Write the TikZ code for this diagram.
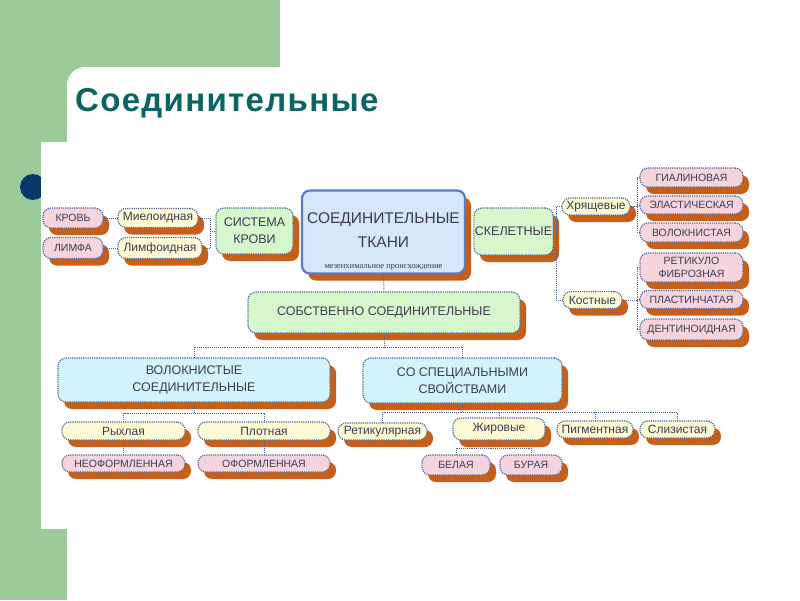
\documentclass[tikz,border=0pt]{standalone}
\usepackage{fontspec}
\setmainfont{Liberation Sans}
\newfontfamily\titlefont[LetterSpace=4]{Liberation Sans}
\newfontfamily\subfont{Liberation Serif}
\usepackage{tikz}
\usetikzlibrary{shadows}
\definecolor{slidegreen}{RGB}{155,203,152}
\definecolor{bulletblue}{RGB}{10,55,105}
\definecolor{titleteal}{RGB}{10,100,100}
\definecolor{shadowbrown}{RGB}{200,95,25}
\definecolor{edgeblue}{RGB}{80,100,155}
\definecolor{mainedge}{RGB}{90,125,190}
\definecolor{labelgray}{RGB}{60,60,78}
\definecolor{pinkfill}{RGB}{246,212,222}
\definecolor{yellowfill}{RGB}{252,250,212}
\definecolor{greenfill}{RGB}{214,247,204}
\definecolor{bluefill}{RGB}{212,230,250}
\definecolor{cyanfill}{RGB}{208,244,250}

\tikzset{
	tbox/.style={draw=edgeblue, line width=1.2pt, densely dotted, rounded corners=8pt,
		text=labelgray, inner sep=1pt, align=center,
		general shadow={fill=shadowbrown, shadow xshift=6pt, shadow yshift=-7pt}},
	pinkbox/.style={tbox, fill=pinkfill, font=\fontsize{10.5}{12.5}\selectfont},
	yellowbox/.style={tbox, fill=yellowfill, font=\fontsize{12}{13}\selectfont},
	greenbox/.style={tbox, fill=greenfill, font=\fontsize{12.5}{17}\selectfont},
	cyanbox/.style={tbox, fill=cyanfill, font=\fontsize{12.5}{16.5}\selectfont},
	mainbox/.style={tbox, fill=bluefill, draw=mainedge, line width=2.2pt, solid,
		font=\fontsize{15.5}{24}\selectfont},
	link/.style={draw=edgeblue, line width=0.9pt, densely dotted}
}

\begin{document}
\begin{tikzpicture}[x=1pt, y=-1pt]
	\useasboundingbox (0,0) rectangle (800,600);
	% slide background
	\fill[white] (0,0) rectangle (800,600);
	\fill[slidegreen] (0,0) rectangle (280,90);
	\fill[slidegreen] (0,0) rectangle (67,600);
	\fill[white, rounded corners=18pt] (67,67) rectangle (830,630);
	\fill[bulletblue] (33,187) circle (13);
	\fill[white] (41,142) rectangle (765,529);
	\node[anchor=base west, inner sep=0pt, text=titleteal,
		font=\titlefont\bfseries\fontsize{33}{36}\selectfont] (title) at (75,111) {Соединительные};

	% left part
	\node[pinkbox, minimum width=60, minimum height=20] (krov) at (73,218) {КРОВЬ};
	\node[pinkbox, minimum width=60, minimum height=21] (limfa) at (73,248) {ЛИМФА};
	\node[yellowbox, minimum width=80, minimum height=19] (mieloid) at (158,218) {Миелоидная};
	\node[yellowbox, minimum width=84, minimum height=21] (limfoid) at (160,248) {Лимфоидная};
	\node[greenbox, minimum width=77, minimum height=46] (sistema) at (254.5,231) {СИСТЕМА\\КРОВИ};

	% centre
	\node[mainbox, minimum width=163, minimum height=83] (tkani) at (383.5,232)
		{\rule{0pt}{30pt}СОЕДИНИТЕЛЬНЫЕ\\ТКАНИ\\[-3pt]
		 {\subfont\fontsize{8.5}{9}\selectfont мезенхимальное происхождение}};
	\node[greenbox, minimum width=77, minimum height=47] (skelet) at (513.5,231.5) {СКЕЛЕТНЫЕ};

	% right part
	\node[yellowbox, minimum width=68, minimum height=17] (hrasch) at (596,206.5) {Хрящевые};
	\node[yellowbox, minimum width=59, minimum height=17] (kostn) at (592.5,300) {Костные};
	\node[pinkbox, minimum width=103, minimum height=19] (gialin) at (691.5,177.5) {ГИАЛИНОВАЯ};
	\node[pinkbox, minimum width=103, minimum height=18] (elast) at (691.5,205) {ЭЛАСТИЧЕСКАЯ};
	\node[pinkbox, minimum width=103, minimum height=19] (volokn) at (691.5,232.5) {ВОЛОКНИСТАЯ};
	\node[pinkbox, minimum width=103, minimum height=29] (retfib) at (691.5,267.5) {РЕТИКУЛО\\ФИБРОЗНАЯ};
	\node[pinkbox, minimum width=103, minimum height=18] (plast) at (691.5,299.5) {ПЛАСТИНЧАТАЯ};
	\node[pinkbox, minimum width=103, minimum height=21] (dentin) at (691.5,329.5) {ДЕНТИНОИДНАЯ};

	% lower part
	\node[greenbox, minimum width=272, minimum height=41] (sobstv) at (384,312.5) {СОБСТВЕННО СОЕДИНИТЕЛЬНЫЕ};
	\node[cyanbox, minimum width=272, minimum height=44] (volsoed) at (194,380) {ВОЛОКНИСТЫЕ\\СОЕДИНИТЕЛЬНЫЕ};
	\node[cyanbox, minimum width=199, minimum height=45] (specsv) at (462.5,380.5) {СО СПЕЦИАЛЬНЫМИ\\СВОЙСТВАМИ};
	\node[yellowbox, minimum width=123, minimum height=18] (ryhl) at (123.5,431) {Рыхлая};
	\node[yellowbox, minimum width=132, minimum height=18] (plotn) at (264,431) {Плотная};
	\node[pinkbox, minimum width=123, minimum height=17] (neoform) at (123.5,463.5) {НЕОФОРМЛЕННАЯ};
	\node[pinkbox, minimum width=132, minimum height=17] (oform) at (264,463.5) {ОФОРМЛЕННАЯ};
	\node[yellowbox, minimum width=89, minimum height=17] (retik) at (382.5,431.5) {Ретикулярная};
	\node[yellowbox, minimum width=92, minimum height=22] (zhir) at (499,429) {Жировые};
	\node[yellowbox, minimum width=76, minimum height=17] (pigm) at (595,429.5) {Пигментная};
	\node[yellowbox, minimum width=75, minimum height=17] (sliz) at (677.5,429.5) {Слизистая};
	\node[pinkbox, minimum width=68, minimum height=20] (belaya) at (456,465) {БЕЛАЯ};
	\node[pinkbox, minimum width=62, minimum height=20] (buraya) at (531,465) {БУРАЯ};

	% connectors
	\coordinate (kb) at (210,231);
	\coordinate (sk) at (556,232);
	\coordinate (hb) at (637,206.5);
	\coordinate (kob) at (637,300);
	\coordinate (sb) at (384,347);
	\coordinate (vb) at (194,413);
	\coordinate (spb) at (462.5,412);
	\coordinate (zb) at (499,448);
	\draw[link] (krov.east) -- (mieloid.west);
	\draw[link] (limfa.east) -- (limfoid.west);
	\draw[link] (mieloid.east) -| (kb) |- (limfoid.east);
	\draw[link] (kb) -- (sistema.west);
	\draw[link] (hrasch.west) -| (sk) |- (kostn.west);
	\draw[link] (skelet.east) -- (sk);
	\draw[link] (hrasch.east) -- (hb);
	\draw[link] (gialin.west) -| (hb) |- (volokn.west);
	\draw[link] (elast.west) -- (elast.west -| hb);
	\draw[link] (kostn.east) -- (kob);
	\draw[link] (retfib.west) -| (kob) |- (dentin.west);
	\draw[link] (plast.west) -- (plast.west -| kob);
	\draw[link] (tkani.south) -- (sobstv.north);
	\draw[link] (sobstv.south) -- (sb);
	\draw[link] (volsoed.north) |- (sb) -| (specsv.north);
	\draw[link] (volsoed.south) -- (vb);
	\draw[link] (ryhl.north) |- (vb) -| (plotn.north);
	\draw[link] (ryhl.south) -- (neoform.north);
	\draw[link] (plotn.south) -- (oform.north);
	\draw[link] (specsv.south) -- (spb);
	\draw[link] (retik.north) |- (spb) -| (sliz.north);
	\draw[link] (zhir.north) -- (zhir.north |- spb);
	\draw[link] (pigm.north) -- (pigm.north |- spb);
	\draw[link] (zhir.south) -- (zb);
	\draw[link] (belaya.north) |- (zb) -| (buraya.north);
\end{tikzpicture}
\end{document}
